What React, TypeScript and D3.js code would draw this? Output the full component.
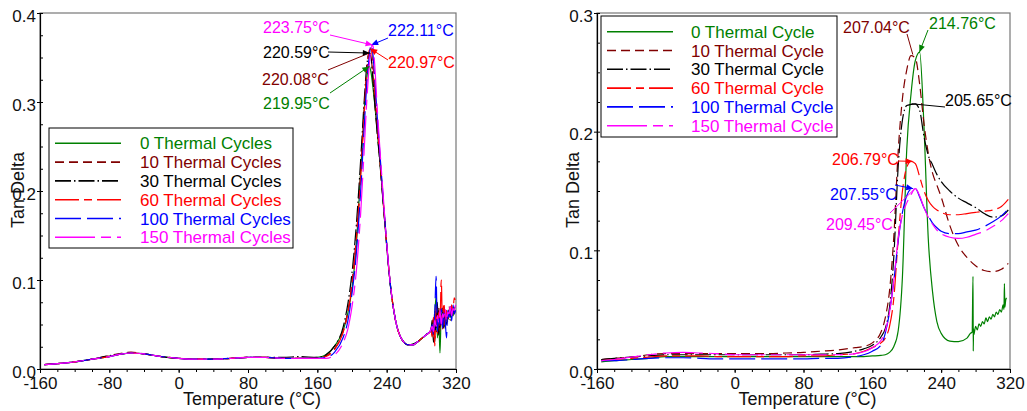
import React, { useEffect, useRef } from 'react';
import * as d3 from 'd3';

type Pt = [number, number];

// ---- data: left panel (tan delta vs temperature) ----
const cycleCounts = [0, 10, 30, 60, 100, 150];

const leftTemps = [
  -155, -140, -120, -100, -80, -65, -55, -40, -20, 0,
  20, 40, 60, 80, 100, 120, 140, 160, 170, 180,
  190, 195, 200, 205, 210, 214, 217, 220, 222, 224,
  226, 229, 232, 236, 240, 244, 248, 252, 256, 260,
  265, 270, 275, 280, 285, 290,
];
const left0 = [
  0.005, 0.006, 0.008, 0.011, 0.014, 0.017, 0.018, 0.017, 0.014, 0.012,
  0.011, 0.011, 0.012, 0.013, 0.013, 0.012, 0.012, 0.013, 0.016, 0.026,
  0.044, 0.062, 0.09, 0.14, 0.222, 0.288, 0.326, 0.34, 0.333, 0.318,
  0.3, 0.268, 0.236, 0.188, 0.14, 0.097, 0.067, 0.047, 0.036, 0.03,
  0.027, 0.027, 0.03, 0.034, 0.038, 0.042,
];
const left10 = [
  0.005, 0.006, 0.008, 0.011, 0.015, 0.018, 0.019, 0.017, 0.014, 0.012,
  0.011, 0.011, 0.012, 0.013, 0.013, 0.012, 0.012, 0.012, 0.015, 0.023,
  0.043, 0.064, 0.097, 0.148, 0.22, 0.29, 0.335, 0.355, 0.35, 0.33,
  0.306, 0.27, 0.236, 0.188, 0.14, 0.097, 0.067, 0.047, 0.036, 0.03,
  0.027, 0.027, 0.03, 0.034, 0.038, 0.042,
];
const left30 = [
  0.005, 0.006, 0.008, 0.011, 0.015, 0.017, 0.018, 0.017, 0.014, 0.012,
  0.011, 0.011, 0.012, 0.013, 0.013, 0.013, 0.014, 0.013, 0.016, 0.026,
  0.048, 0.072, 0.108, 0.162, 0.235, 0.3, 0.34, 0.355, 0.35, 0.328,
  0.302, 0.266, 0.234, 0.186, 0.139, 0.096, 0.067, 0.047, 0.036, 0.03,
  0.027, 0.028, 0.03, 0.034, 0.038, 0.042,
];
const left60 = [
  0.005, 0.006, 0.008, 0.011, 0.014, 0.017, 0.018, 0.017, 0.014, 0.012,
  0.011, 0.011, 0.012, 0.013, 0.013, 0.012, 0.012, 0.012, 0.014, 0.022,
  0.042, 0.062, 0.094, 0.145, 0.215, 0.285, 0.332, 0.358, 0.36, 0.344,
  0.318, 0.278, 0.24, 0.189, 0.14, 0.097, 0.067, 0.047, 0.036, 0.03,
  0.027, 0.027, 0.03, 0.034, 0.038, 0.042,
];
const left100 = [
  0.005, 0.006, 0.008, 0.011, 0.014, 0.017, 0.018, 0.017, 0.014, 0.012,
  0.011, 0.011, 0.012, 0.013, 0.013, 0.012, 0.012, 0.012, 0.013, 0.019,
  0.036, 0.053, 0.085, 0.13, 0.2, 0.27, 0.32, 0.352, 0.364, 0.355,
  0.33, 0.285, 0.245, 0.192, 0.141, 0.097, 0.067, 0.047, 0.036, 0.03,
  0.027, 0.027, 0.03, 0.034, 0.038, 0.042,
];
const left150 = [
  0.005, 0.006, 0.008, 0.011, 0.014, 0.017, 0.018, 0.017, 0.014, 0.012,
  0.011, 0.011, 0.012, 0.013, 0.013, 0.012, 0.012, 0.012, 0.012, 0.016,
  0.03, 0.044, 0.07, 0.11, 0.175, 0.245, 0.3, 0.342, 0.36, 0.364,
  0.345, 0.295, 0.25, 0.195, 0.142, 0.098, 0.067, 0.047, 0.036, 0.03,
  0.027, 0.027, 0.03, 0.034, 0.038, 0.042,
];

// noisy end of the left runs
const leftTailTemps = [291, 292.5, 294, 295.5, 297, 298.5, 300, 301.5, 303, 304.5, 306, 307.5, 309, 310.5, 312, 313.5, 315, 316.5, 318, 319.5];
const leftTail0 = [0.044, 0.05, 0.04, 0.06, 0.082, 0.035, 0.058, 0.018, 0.062, 0.05, 0.066, 0.048, 0.06, 0.055, 0.064, 0.058, 0.066, 0.06, 0.068, 0.07];
const leftTail10 = [0.046, 0.038, 0.056, 0.03, 0.062, 0.045, 0.07, 0.042, 0.06, 0.05, 0.072, 0.046, 0.066, 0.052, 0.068, 0.06, 0.064, 0.07, 0.062, 0.068];
const leftTail30 = [0.042, 0.055, 0.03, 0.065, 0.04, 0.075, 0.038, 0.062, 0.048, 0.07, 0.045, 0.066, 0.05, 0.058, 0.062, 0.055, 0.068, 0.06, 0.066, 0.064];
const leftTail60 = [0.045, 0.036, 0.058, 0.026, 0.07, 0.04, 0.064, 0.052, 0.1, 0.045, 0.074, 0.05, 0.066, 0.056, 0.07, 0.062, 0.072, 0.066, 0.08, 0.076];
const leftTail100 = [0.043, 0.05, 0.038, 0.062, 0.104, 0.042, 0.06, 0.05, 0.068, 0.046, 0.064, 0.055, 0.035, 0.066, 0.058, 0.07, 0.054, 0.072, 0.062, 0.066];
const leftTail150 = [0.044, 0.048, 0.042, 0.055, 0.048, 0.06, 0.052, 0.066, 0.05, 0.062, 0.058, 0.068, 0.054, 0.064, 0.062, 0.07, 0.06, 0.068, 0.066, 0.072];

const leftPeakTemps = [219.95, 220.08, 220.59, 220.97, 222.11, 223.75];
const leftPeakValues = [0.34, 0.355, 0.355, 0.36, 0.364, 0.364];

// ---- data: right panel ----
const rightTemps = [
  -155, -140, -120, -100, -80, -60, -40, -20, 0, 20,
  40, 60, 80, 100, 120, 140, 150, 160, 170, 175,
  180, 185, 190, 195, 200, 205, 210, 215, 220, 225,
  230, 235, 240, 250, 260, 270, 280, 290, 300, 310, 318,
];
const right0 = [
  0.006, 0.007, 0.008, 0.009, 0.0105, 0.0105, 0.0105, 0.0105, 0.0105, 0.0105,
  0.0105, 0.0105, 0.0105, 0.0105, 0.0105, 0.0105, 0.0105, 0.011, 0.0115, 0.012,
  0.014, 0.019, 0.032, 0.078, 0.185, 0.232, 0.26, 0.267, 0.205, 0.11,
  0.065, 0.04, 0.03, 0.0235, 0.023, 0.026,
];
const right10 = [
  0.008, 0.009, 0.01, 0.012, 0.013, 0.013, 0.013, 0.013, 0.013, 0.013,
  0.013, 0.0135, 0.014, 0.015, 0.016, 0.018, 0.019, 0.022, 0.031, 0.043,
  0.066, 0.112, 0.183, 0.228, 0.252, 0.264, 0.262, 0.24, 0.207, 0.182,
  0.165, 0.155, 0.145, 0.121, 0.104, 0.094, 0.087, 0.083, 0.082, 0.084, 0.089,
];
const right30 = [
  0.008, 0.009, 0.01, 0.011, 0.012, 0.012, 0.012, 0.012, 0.012, 0.012,
  0.012, 0.012, 0.012, 0.0125, 0.013, 0.015, 0.017, 0.02, 0.027, 0.034,
  0.052, 0.095, 0.17, 0.21, 0.222, 0.223, 0.2235, 0.218, 0.196, 0.18,
  0.172, 0.164, 0.158, 0.15, 0.144, 0.14, 0.136, 0.131, 0.128, 0.129, 0.134,
];
const right60 = [
  0.007, 0.008, 0.009, 0.01, 0.011, 0.011, 0.011, 0.0105, 0.0105, 0.0105,
  0.0105, 0.0105, 0.011, 0.011, 0.012, 0.013, 0.015, 0.018, 0.022, 0.026,
  0.036, 0.06, 0.109, 0.15, 0.17, 0.175, 0.173, 0.162, 0.15, 0.142,
  0.137, 0.134, 0.132, 0.13, 0.13, 0.131, 0.132, 0.133, 0.134, 0.137, 0.143,
];
const right100 = [
  0.007, 0.007, 0.008, 0.009, 0.0095, 0.0095, 0.009, 0.0085, 0.0085, 0.0085,
  0.0085, 0.0085, 0.0085, 0.009, 0.009, 0.0105, 0.012, 0.015, 0.02, 0.03,
  0.048, 0.074, 0.108, 0.132, 0.146, 0.1515, 0.152, 0.145, 0.136, 0.129,
  0.123, 0.119, 0.116, 0.114, 0.114, 0.1155, 0.117, 0.12, 0.124, 0.129, 0.135,
];
const right150 = [
  0.007, 0.008, 0.01, 0.012, 0.0135, 0.014, 0.0135, 0.013, 0.012, 0.012,
  0.012, 0.012, 0.012, 0.012, 0.012, 0.013, 0.0145, 0.018, 0.024, 0.032,
  0.048, 0.075, 0.11, 0.13, 0.14, 0.147, 0.152, 0.146, 0.136, 0.128,
  0.122, 0.117, 0.114, 0.111, 0.11, 0.111, 0.1135, 0.116, 0.12, 0.125, 0.131,
];
// 0-cycle sample gets noisy after ~270 °C
const rightTailTemps = [272, 274, 276, 277, 277.3, 277.6, 278, 280, 282, 284, 286, 288, 290, 292, 294, 296, 298, 300, 302, 304, 306, 308, 310, 312, 313, 313.5, 314, 315, 316];
const rightTail0 = [0.028, 0.03, 0.031, 0.078, 0.015, 0.034, 0.029, 0.036, 0.033, 0.038, 0.036, 0.04, 0.038, 0.043, 0.04, 0.044, 0.042, 0.046, 0.044, 0.048, 0.046, 0.05, 0.048, 0.054, 0.05, 0.072, 0.052, 0.058, 0.06];

const rightPeakTemps = [214.76, 207.04, 205.65, 206.79, 207.55, 209.45];
const rightPeakValues = [0.267, 0.265, 0.2235, 0.175, 0.152, 0.152];

// ---- styles ----
const colors = ['#008000', '#800000', '#000000', '#ff0000', '#0000ff', '#ff00ff'];
const dashes = ['none', '9,5', '16,3,1.5,3', '24,5,8,5', '26,6', '40,6,10,6'];
const FONT = "'Liberation Sans', Arial, sans-serif";

const zip = (temps: number[], vals: number[]): Pt[] => vals.map((v, i) => [temps[i], v]);

const leftSeries: Pt[][] = [
  [left0, leftTail0], [left10, leftTail10], [left30, leftTail30],
  [left60, leftTail60], [left100, leftTail100], [left150, leftTail150],
].map(([a, b]) => zip(leftTemps, a).concat(zip(leftTailTemps, b)));

const rightSeries: Pt[][] = [
  zip(rightTemps, right0).concat(zip(rightTailTemps, rightTail0)),
  zip(rightTemps, right10),
  zip(rightTemps, right30),
  zip(rightTemps, right60),
  zip(rightTemps, right100),
  zip(rightTemps, right150),
];

// label layout: text start (tx, baseline ty), leader start (lx, ly), arrow head?
const leftLabels = [
  { tx: 263, ty: 109, lx: 330, ly: 93, head: true },
  { tx: 262, ty: 85, lx: 328, ly: 70, head: false },
  { tx: 263, ty: 58, lx: 328, ly: 52, head: true },
  { tx: 388, ty: 68, lx: 388, ly: 60, head: true },
  { tx: 388, ty: 36, lx: 388, ly: 38, head: true },
  { tx: 263, ty: 33, lx: 330, ly: 35, head: true },
];
const rightLabels = [
  { tx: 929, ty: 29, lx: 928, ly: 30, head: true },
  { tx: 843, ty: 33, lx: 907, ly: 34, head: false },
  { tx: 945, ty: 106, lx: 945, ly: 107, head: false },
  { tx: 832, ty: 165, lx: 898, ly: 161, head: true },
  { tx: 830, ty: 200, lx: 895, ly: 185, head: true },
  { tx: 826, ty: 230, lx: 890, ly: 213, head: false },
];

type Cfg = {
  id: string;
  left: number; right: number; top: number; bottom: number;
  yMax: number;
  series: Pt[][];
  peakTemps: number[]; peakValues: number[];
  labels: { tx: number; ty: number; lx: number; ly: number; head: boolean }[];
  legend: { x: number; y: number; w: number; h: number; row0: number; lineX0: number; lineX1: number; textX: number };
  suffix: string;
  yTitleX: number;
};

function drawChart(svg: d3.Selection<SVGSVGElement, unknown, null, undefined>, c: Cfg) {
  const x = d3.scaleLinear().domain([-160, 320]).range([c.left, c.right]);
  const y = d3.scaleLinear().domain([0, c.yMax]).range([c.bottom, c.top]);
  const g = svg.append('g');

  g.append('clipPath').attr('id', c.id).append('rect')
    .attr('x', c.left).attr('y', c.top).attr('width', c.right - c.left).attr('height', c.bottom - c.top);

  g.append('rect')
    .attr('x', c.left).attr('y', c.top).attr('width', c.right - c.left).attr('height', c.bottom - c.top)
    .attr('fill', 'white').attr('stroke', '#777').attr('stroke-width', 1.2);

  // curves
  const line = d3.line<Pt>().x((d) => x(d[0])).y((d) => y(d[1])).curve(d3.curveMonotoneX);
  const lines = g.append('g').attr('clip-path', `url(#${c.id})`);
  c.series.forEach((s, i) => {
    lines.append('path')
      .attr('d', line(s))
      .attr('fill', 'none')
      .attr('stroke', colors[i])
      .attr('stroke-width', 1.2)
      .attr('stroke-dasharray', dashes[i]);
  });

  // axes
  const xMinor = g.append('g').attr('transform', `translate(0,${c.bottom})`)
    .call(d3.axisBottom(x).tickValues(d3.range(-160, 321, 20)).tickSize(3).tickSizeOuter(0).tickFormat(() => ''));
  xMinor.select('.domain').remove();
  const xAxis = g.append('g').attr('transform', `translate(0,${c.bottom})`)
    .call(d3.axisBottom(x).tickValues(d3.range(-160, 321, 80)).tickSize(4).tickSizeOuter(0).tickPadding(4)
      .tickFormat((d) => String(d)));
  xAxis.selectAll('text').attr('font-size', 17).attr('font-family', FONT).attr('fill', '#111');

  const yMinor = g.append('g').attr('transform', `translate(${c.left},0)`)
    .call(d3.axisLeft(y).tickValues(d3.range(0, c.yMax + 1e-9, 0.025)).tickSize(-3).tickSizeOuter(0).tickFormat(() => ''));
  yMinor.select('.domain').remove();
  const yAxis = g.append('g').attr('transform', `translate(${c.left},0)`)
    .call(d3.axisLeft(y).tickValues(d3.range(0, c.yMax + 1e-9, 0.1)).tickSize(3).tickSizeOuter(0).tickPadding(1).tickFormat(d3.format('.1f')));
  yAxis.selectAll('text').attr('font-size', 17).attr('font-family', FONT).attr('fill', '#111').attr('dy', '0.47em');
  [xAxis, yAxis].forEach((a) => a.select('.domain').attr('stroke', '#000').attr('stroke-width', 1.2));

  // axis titles
  g.append('text')
    .attr('x', (c.left + c.right) / 2 + 4).attr('y', 405)
    .attr('text-anchor', 'middle').attr('font-family', FONT).attr('font-size', 18).attr('fill', '#111')
    .text('Temperature (°C)');
  g.append('text')
    .attr('transform', `translate(${c.yTitleX},190) rotate(-90)`)
    .attr('text-anchor', 'middle').attr('font-family', FONT).attr('font-size', 18).attr('fill', '#111')
    .text('Tan Delta');

  // peak labels with leaders
  c.labels.forEach((l, i) => {
    const px = x(c.peakTemps[i]);
    const py = y(c.peakValues[i]);
    g.append('line')
      .attr('x1', l.lx).attr('y1', l.ly).attr('x2', px).attr('y2', py)
      .attr('stroke', colors[i]).attr('stroke-width', 1);
    if (l.head) {
      const ang = Math.atan2(py - l.ly, px - l.lx);
      const len = 7, wid = 3;
      const bx = px - len * Math.cos(ang), by = py - len * Math.sin(ang);
      const nx = -Math.sin(ang) * wid, ny = Math.cos(ang) * wid;
      g.append('path')
        .attr('d', `M${px},${py}L${bx + nx},${by + ny}L${bx - nx},${by - ny}Z`)
        .attr('fill', colors[i]);
    }
    g.append('text')
      .attr('x', l.tx).attr('y', l.ty)
      .attr('font-family', FONT).attr('font-size', 16).attr('fill', colors[i])
      .text(`${c.peakTemps[i].toFixed(2)}°C`);
  });

  // legend
  const L = c.legend;
  const lg = g.append('g');
  lg.append('rect').attr('x', L.x).attr('y', L.y).attr('width', L.w).attr('height', L.h)
    .attr('fill', 'white').attr('stroke', '#000').attr('stroke-width', 1);
  cycleCounts.forEach((n, i) => {
    const ry = L.row0 + i * 18.8;
    lg.append('line').attr('x1', L.lineX0).attr('x2', L.lineX1).attr('y1', ry).attr('y2', ry)
      .attr('stroke', colors[i]).attr('stroke-width', 1.6).attr('stroke-dasharray', dashes[i]);
    lg.append('text').attr('x', L.textX).attr('y', ry + 6)
      .attr('font-family', FONT).attr('font-size', 17).attr('fill', colors[i])
      .text(`${n} Thermal ${c.suffix}`);
  });
}

export default function App() {
  const ref = useRef<SVGSVGElement>(null);

  useEffect(() => {
    const svg = d3.select(ref.current as SVGSVGElement);
    svg.selectAll('*').remove();

    drawChart(svg, {
      id: 'clip-left', left: 40, right: 456, top: 13, bottom: 369, yMax: 0.4,
      series: leftSeries, peakTemps: leftPeakTemps, peakValues: leftPeakValues, labels: leftLabels,
      legend: { x: 49, y: 128, w: 244, h: 120, row0: 143.3, lineX0: 55, lineX1: 121, textX: 140 },
      suffix: 'Cycles', yTitleX: 24,
    });
    drawChart(svg, {
      id: 'clip-right', left: 597, right: 1010, top: 13, bottom: 369, yMax: 0.3,
      series: rightSeries, peakTemps: rightPeakTemps, peakValues: rightPeakValues, labels: rightLabels,
      legend: { x: 601, y: 16, w: 236, h: 121, row0: 31.7, lineX0: 607, lineX1: 673, textX: 691 },
      suffix: 'Cycle', yTitleX: 579,
    });
  }, []);

  return (
    <svg
      ref={ref}
      width={1027}
      height={411}
      style={{ position: 'absolute', left: 0, top: 0, background: 'white' }}
    />
  );
}
